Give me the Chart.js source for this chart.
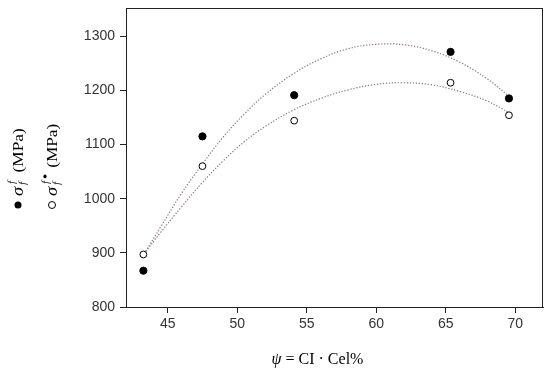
<!DOCTYPE html>
<html>
<head>
<meta charset="utf-8">
<script src="https://cdn.jsdelivr.net/npm/chart.js@4.4.1/dist/chart.umd.min.js"></script>
<style>
  body { margin: 0; background: #fff; }
  #wrap { width: 550px; height: 373px; }
</style>
</head>
<body>
<div id="wrap"><canvas id="fractureChart"></canvas></div>
<script>
// Datos medidos
const psiValues = [43.25, 47.5, 54.1, 65.35, 69.55];
const sigmaF = [867, 1115, 1191, 1271, 1185];
const sigmaFStar = [897, 1060, 1144, 1214, 1154];

// Curvas de ajuste
const fitX = [43.3, 44.5, 46, 47.5, 49, 50.5, 52, 54, 56, 58, 60, 62, 64, 66, 68, 69.6];
const fitUpper = [898, 948, 1010, 1064, 1114, 1156, 1192, 1230, 1258, 1277, 1285, 1284, 1273, 1252, 1221, 1188];
const fitLower = [898, 938, 985, 1030, 1070, 1105, 1133, 1163, 1185, 1201, 1211, 1214, 1210, 1198, 1180, 1158];

const xTicks = [45, 50, 55, 60, 65, 70];
const yTicks = [800, 900, 1000, 1100, 1200, 1300];

function toPoints(xs, ys) {
  return xs.map((x, i) => ({ x: x, y: ys[i] }));
}

const SERIF = '"Liberation Serif", "DejaVu Serif", serif';

// Marco alrededor del area del grafico + titulo del eje x + leyenda vertical
const decorPlugin = {
  id: 'decor',
  afterDraw(chart) {
    const ctx = chart.ctx;
    const a = chart.chartArea;
    ctx.save();
    ctx.strokeStyle = '#222';
    ctx.lineWidth = 1;
    ctx.strokeRect(Math.round(a.left) + 0.5, Math.round(a.top) + 0.5,
                   Math.round(a.right - a.left) - 1, Math.round(a.bottom - a.top));

    // titulo eje x: ψ = CI · Cel%
    ctx.fillStyle = '#000';
    ctx.textBaseline = 'alphabetic';
    const cx = (a.left + a.right) / 2 - 17;
    const ty = 364;
    const psi = 'ψ';
    const rest = ' = CI · Cel%';
    ctx.font = 'italic 16px ' + SERIF;
    const w1 = ctx.measureText(psi).width;
    ctx.font = '16px ' + SERIF;
    const w2 = ctx.measureText(rest).width;
    const x0 = cx - (w1 + w2) / 2;
    ctx.font = 'italic 16px ' + SERIF;
    ctx.fillText(psi, x0, ty);
    ctx.font = '16px ' + SERIF;
    ctx.fillText(rest, x0 + w1, ty);

    // leyenda girada
    const entries = [
      { bx: 18, filled: true, star: false },
      { bx: 52, filled: false, star: true }
    ];
    entries.forEach(e => {
      ctx.beginPath();
      ctx.arc(e.bx, 205, 3.5, 0, Math.PI * 2);
      if (e.filled) {
        ctx.fillStyle = '#000';
        ctx.fill();
      } else {
        ctx.fillStyle = '#fff';
        ctx.fill();
        ctx.strokeStyle = '#000';
        ctx.lineWidth = 1;
        ctx.stroke();
      }
      ctx.save();
      ctx.translate(e.bx + 5, 196);
      ctx.rotate(-Math.PI / 2);
      ctx.scale(1.15, 1);
      ctx.fillStyle = '#000';
      ctx.font = 'italic 16px ' + SERIF;
      ctx.fillText('σ', 0, 0);
      ctx.font = 'italic 10px ' + SERIF;
      ctx.fillText('f', 10.5, -8);
      ctx.fillText('f', 9.5, 3);
      let u = 20.5;
      if (e.star) {
        ctx.beginPath();
        ctx.arc(17, -12, 1.6, 0, Math.PI * 2);
        ctx.fill();
        u = 24.5;
      }
      ctx.font = '15px ' + SERIF;
      ctx.fillText('(MPa)', u, 0);
      ctx.restore();
    });
    ctx.restore();
  }
};

const ctx = document.getElementById('fractureChart').getContext('2d');
const fractureChart = new Chart(ctx, {
  type: 'scatter',
  data: {
    datasets: [
      {
        label: 'ajuste σf',
        data: toPoints(fitX, fitUpper),
        showLine: true,
        borderColor: '#8c7a7a',
        borderWidth: 1.2,
        borderDash: [1.3, 1.7],
        tension: 0.4,
        pointRadius: 0,
        order: 3
      },
      {
        label: 'ajuste σf*',
        data: toPoints(fitX, fitLower),
        showLine: true,
        borderColor: '#8c7a7a',
        borderWidth: 1.2,
        borderDash: [1.3, 1.7],
        tension: 0.4,
        pointRadius: 0,
        order: 3
      },
      {
        label: 'σf (MPa)',
        data: toPoints(psiValues, sigmaF),
        pointRadius: 3.6,
        pointBackgroundColor: '#000',
        pointBorderColor: '#000',
        order: 1
      },
      {
        label: 'σf* (MPa)',
        data: toPoints(psiValues, sigmaFStar),
        pointRadius: 3.4,
        pointBackgroundColor: '#fff',
        pointBorderColor: '#000',
        pointBorderWidth: 1,
        order: 1
      }
    ]
  },
  options: {
    responsive: true,
    maintainAspectRatio: false,
    animation: false,
    layout: { padding: { top: 8, right: 7, left: 0, bottom: 0 } },
    plugins: {
      legend: { display: false },
      tooltip: { enabled: false }
    },
    scales: {
      x: {
        type: 'linear',
        min: 42,
        max: 72,
        afterBuildTicks: function(scale) {
          scale.ticks = xTicks.map(v => ({ value: v }));
        },
        afterFit: function(scale) {
          scale.height = 66;
          scale.paddingLeft = 0;
          scale.paddingRight = 0;
        },
        grid: {
          drawOnChartArea: false,
          drawTicks: true,
          tickLength: 6,
          tickColor: '#222'
        },
        border: { display: true, color: '#222' },
        ticks: {
          color: '#333',
          padding: 3,
          font: { family: '"Liberation Sans", Arial, sans-serif', size: 14 },
          callback: function(value) { return String(value); }
        }
      },
      y: {
        type: 'linear',
        min: 800,
        max: 1352,
        afterBuildTicks: function(scale) {
          scale.ticks = yTicks.map(v => ({ value: v }));
        },
        afterFit: function(scale) {
          scale.width = 126;
          scale.paddingTop = 0;
          scale.paddingBottom = 0;
        },
        grid: {
          drawOnChartArea: false,
          drawTicks: true,
          tickLength: 6,
          tickColor: '#222'
        },
        border: { display: true, color: '#222' },
        ticks: {
          color: '#333',
          padding: 5,
          font: { family: '"Liberation Sans", Arial, sans-serif', size: 14 },
          callback: function(value) { return String(value); }
        }
      }
    }
  },
  plugins: [decorPlugin]
});
</script>
</body>
</html>
